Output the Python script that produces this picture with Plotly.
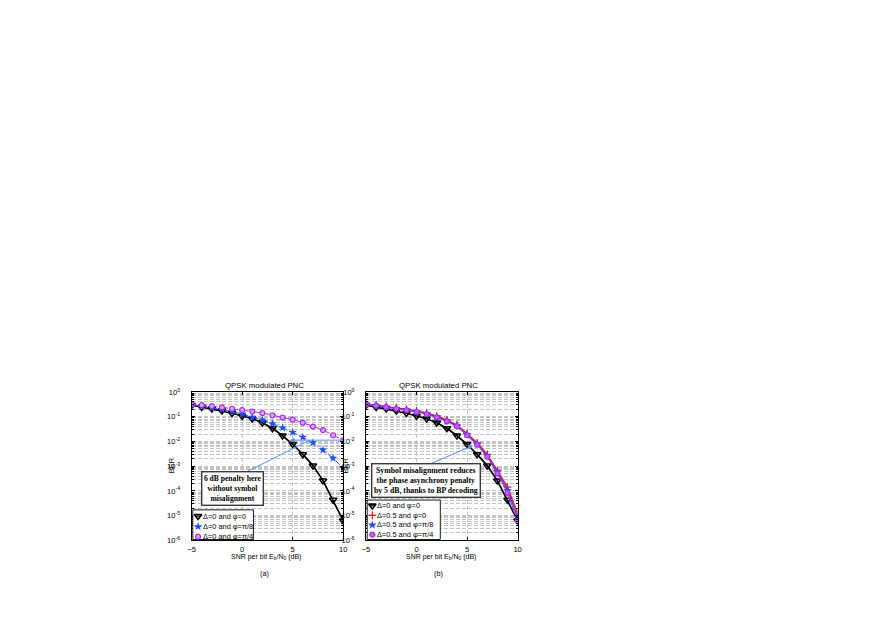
import math
import plotly.graph_objects as go

# ---------------- data ----------------
snr_db = list(range(-5, 11))

# panel (a)
ber_a_d0_phi0 = [0.295, 0.245, 0.211, 0.176, 0.138, 0.107, 0.083, 0.057, 0.034, 0.017,
                 0.0077, 0.0030, 1.05e-3, 2.6e-4, 4.3e-5, 6.2e-6]
ber_a_d0_phi8 = [0.30, 0.27, 0.232, 0.20, 0.166, 0.129, 0.097, 0.074, 0.0525, 0.0355,
                 0.0234, 0.0148, 0.0089, 0.0045, 0.0021, 8.3e-4]
ber_a_d0_phi4 = [0.32, 0.295, 0.27, 0.24, 0.211, 0.186, 0.162, 0.142, 0.115, 0.093,
                 0.077, 0.0575, 0.040, 0.029, 0.0178, 0.0113]

# panel (b)
ber_b_d0_phi0 = ber_a_d0_phi0
ber_b_d05_phi0 = [0.331, 0.295, 0.263, 0.234, 0.204, 0.174, 0.141, 0.107, 0.0741, 0.0457,
                  0.0209, 0.0087, 0.0030, 6.8e-4, 1.41e-4, 1.23e-5]
ber_b_d05_phi8 = [0.324, 0.288, 0.251, 0.219, 0.191, 0.162, 0.132, 0.100, 0.069, 0.0437,
                  0.0195, 0.0079, 0.0026, 5.8e-4, 1.05e-4, 8.9e-6]
ber_b_d05_phi4 = [0.324, 0.282, 0.245, 0.214, 0.186, 0.158, 0.129, 0.0955, 0.066, 0.0417,
                  0.0182, 0.0074, 0.0024, 5.0e-4, 8.3e-5, 6.0e-6]

names_a = ["Δ=0 and φ=0", "Δ=0 and φ=π/8", "Δ=0 and φ=π/4"]
names_b = ["Δ=0 and φ=0", "Δ=0.5 and φ=0", "Δ=0.5 and φ=π/8", "Δ=0.5 and φ=π/4"]

x_ticks = [-5, 0, 5, 10]
y_exps = [-6, -5, -4, -3, -2, -1, 0]
y_ticktext = ["10<sup>%d</sup>" % e for e in y_exps]
chart_title = "QPSK modulated PNC"
x_title = "SNR per bit E<sub>b</sub>/N<sub>0</sub> (dB)"
note_a = "<b>6 dB penalty here<br>without symbol<br>misalignment</b>"
note_b = "<b>Symbol misalignment reduces<br>the phase asynchrony penalty<br>by 5 dB, thanks to BP decoding</b>"

# ---------------- styles ----------------
PAGE_W, PAGE_H = 882, 624
OFF = 8                      # default body margin of the html page
W, H = PAGE_W - 2 * OFF, PAGE_H - 2 * OFF
FONT = "Arial, Liberation Sans, Helvetica, sans-serif"
SERIF = "Times New Roman, Liberation Serif, serif"
BLACK = "#000000"
BLUE = "#1e50f0"
MAG_LINE = "#a52ae8"
MAG_FILL = "#d9a6ff"
RED = "#ff1a1a"
ARROW = "#5a8ff0"
GRID = "#c4c4c4"
CLEAR = "rgba(0,0,0,0)"

# page-pixel geometry of the two axes boxes
AX_A = (189.3, 342.3)
AX_B = (365.3, 518.3)
AX_Y = (393.0, 544.0)


def px(x):
    return (x - OFF) / W


def py(y):
    return 1 - (y - OFF) / H


styles = {
    "black": dict(line=dict(color=BLACK, width=1.7),
                  marker=dict(symbol="triangle-down-open", size=6.5, color=BLACK,
                              line=dict(color=BLACK, width=1.6))),
    "blue_a": dict(line=dict(color=BLUE, width=1.0, dash="5px,2px,1.5px,2px"),
                   marker=dict(symbol="star", size=6.5, color=BLUE, line=dict(width=0))),
    "mag_a": dict(line=dict(color=MAG_LINE, width=1.0, dash="5px,2px,1.5px,2px"),
                  marker=dict(symbol="circle", size=5, color=MAG_FILL,
                              line=dict(color=MAG_LINE, width=1.2))),
    "red": dict(line=dict(color=RED, width=1.5),
                marker=dict(symbol="cross-thin", size=5.5, color=RED,
                            line=dict(color=RED, width=1.3))),
    "blue_b": dict(line=dict(color=BLUE, width=1.1),
                   marker=dict(symbol="star", size=6.5, color=BLUE, line=dict(width=0))),
    "mag_b": dict(line=dict(color=MAG_LINE, width=1.1),
                  marker=dict(symbol="circle", size=5, color="#bb66ff",
                              line=dict(color=MAG_LINE, width=1.2))),
}

fig = go.Figure()

series_a = [(ber_a_d0_phi0, "black", names_a[0]),
            (ber_a_d0_phi8, "blue_a", names_a[1]),
            (ber_a_d0_phi4, "mag_a", names_a[2])]
series_b = [(ber_b_d0_phi0, "black", names_b[0]),
            (ber_b_d05_phi0, "red", names_b[1]),
            (ber_b_d05_phi8, "blue_b", names_b[2]),
            (ber_b_d05_phi4, "mag_b", names_b[3])]

for vals, st, nm in series_a:
    fig.add_trace(go.Scatter(x=snr_db, y=vals, mode="lines+markers", name=nm,
                             xaxis="x", yaxis="y", showlegend=False, **styles[st]))
for vals, st, nm in series_b:
    fig.add_trace(go.Scatter(x=snr_db, y=vals, mode="lines+markers", name=nm,
                             xaxis="x2", yaxis="y2", showlegend=False, **styles[st]))

# ---------------- custom compact legends (page-pixel overlay axes) ----------------
legend_specs = [
    # box x0, x1, y0, y1, marker x, text x, entry ys, series
    (190.5, 251.7, 513.0, 543.2, 195.8, 199.8, [519.5, 530.0, 540.3], series_a, names_a),
    (366.5, 440.3, 503.0, 543.2, 371.7, 375.0, [508.8, 518.6, 528.4, 538.2], series_b, names_b),
]
for bx0, bx1, by0, by1, mx, tx, ys, ser, nms in legend_specs:
    fig.add_trace(go.Scatter(x=[bx0, bx1, bx1, bx0, bx0], y=[by0, by0, by1, by1, by0],
                             mode="lines", fill="toself", fillcolor="white",
                             line=dict(color=BLACK, width=0.9),
                             xaxis="x3", yaxis="y3", showlegend=False, hoverinfo="skip"))
    for (vals, st, nm), yy in zip(ser, ys):
        s = styles[st]
        fig.add_trace(go.Scatter(x=[mx - 3.0, mx + 3.0], y=[yy, yy], mode="lines",
                                 line=dict(color=s["line"]["color"], width=1.1),
                                 xaxis="x3", yaxis="y3", showlegend=False, hoverinfo="skip"))
        fig.add_trace(go.Scatter(x=[mx], y=[yy], mode="markers", marker=s["marker"],
                                 xaxis="x3", yaxis="y3", showlegend=False, hoverinfo="skip"))
        fig.add_annotation(x=px(tx), y=py(yy), xref="paper", yref="paper", text=nm,
                           showarrow=False, xanchor="left", yanchor="middle", borderpad=0,
                           font=dict(family=FONT, size=7.4, color=BLACK))

# ---------------- axes ----------------
minor_vals = [k * 10.0 ** e for e in range(-6, 0) for k in range(2, 10)]


def xaxis_cfg(dom, anchor):
    return dict(domain=dom, anchor=anchor, range=[-5, 10], tickmode="array", tickvals=x_ticks,
                showgrid=True, gridcolor=GRID, griddash="4px,2px", gridwidth=1,
                showline=True, linecolor=BLACK, linewidth=1, mirror="ticks",
                ticks="inside", ticklen=3, tickcolor=BLACK, zeroline=False,
                ticklabelstandoff=2,
                tickfont=dict(family=FONT, size=7.5, color=BLACK))


def yaxis_cfg(anchor):
    return dict(domain=[py(AX_Y[1]), py(AX_Y[0])], anchor=anchor, type="log", range=[-6, 0],
                tickmode="array", tickvals=[10.0 ** e for e in y_exps], ticktext=y_ticktext,
                showgrid=True, gridcolor=GRID, griddash="4px,2px", gridwidth=1,
                showline=True, linecolor=BLACK, linewidth=1, mirror="ticks",
                ticks="inside", ticklen=3, tickcolor=BLACK, zeroline=False,
                ticklabelstandoff=9,
                tickfont=dict(family=FONT, size=7.5, color=BLACK),
                minor=dict(tickmode="array", tickvals=minor_vals, ticks="inside", ticklen=2,
                           tickcolor=BLACK, showgrid=True, gridcolor=GRID,
                           griddash="4px,2px", gridwidth=1))


fig.update_layout(
    width=W, height=H, autosize=False,
    margin=dict(l=0, r=0, t=0, b=0),
    paper_bgcolor="white", plot_bgcolor=CLEAR,
    font=dict(family=FONT, size=7.5, color=BLACK),
    xaxis=xaxis_cfg([px(AX_A[0]), px(AX_A[1])], "y"),
    yaxis=yaxis_cfg("x"),
    xaxis2=xaxis_cfg([px(AX_B[0]), px(AX_B[1])], "y2"),
    yaxis2=yaxis_cfg("x2"),
    xaxis3=dict(domain=[0, 1], range=[OFF, OFF + W], visible=False, anchor="y3",
                fixedrange=True),
    yaxis3=dict(domain=[0, 1], range=[OFF + H, OFF], visible=False, anchor="x3",
                fixedrange=True),
    showlegend=False,
)

# ---------------- texts ----------------
CM = dict(xanchor="center", yanchor="middle", showarrow=False, xref="paper", yref="paper")
for (x0, x1), lab, blab_x in [(AX_A, "(a)", 169.0), (AX_B, "(b)", 345.0)]:
    cx = (x0 + x1) / 2
    fig.add_annotation(x=px(cx - 3), y=py(386), text=chart_title,
                       font=dict(family=FONT, size=7.8, color=BLACK), **CM)
    fig.add_annotation(x=px(cx - 1), y=py(561.5), text=x_title, borderpad=0,
                       font=dict(family=FONT, size=7.0, color=BLACK), **CM)
    fig.add_annotation(x=px(cx - 3), y=py(578), text=lab,
                       font=dict(family=FONT, size=7.2, color=BLACK), **CM)
    fig.add_annotation(x=px(blab_x), y=py(468), text="BER", textangle=-90,
                       font=dict(family=FONT, size=7.5, color=BLACK), **CM)

# arrows (annotations on log axes use log10 coordinates); drawn before the text boxes
y_pen = math.log10(ber_a_d0_phi4[-1])
fig.add_annotation(xref="x", yref="y", x=4.7, y=y_pen, axref="x", ayref="y", ax=10, ay=y_pen,
                   text="", showarrow=True, arrowhead=2, arrowsize=1, arrowwidth=1,
                   arrowcolor=ARROW, standoff=0)
fig.add_annotation(xref="x", yref="y", x=6.7, y=y_pen, ax=-76, ay=38,
                   text="", showarrow=True, arrowhead=0, arrowwidth=1,
                   arrowcolor=ARROW, standoff=0)
fig.add_annotation(xref="x2", yref="y2", x=5.6, y=math.log10(0.0068), ax=-47, ay=20,
                   text="", showarrow=True, arrowhead=2, arrowsize=1, arrowwidth=1,
                   arrowcolor=ARROW, standoff=0)

# text boxes
fig.add_annotation(x=px(231), y=py(491.5), text=note_a, align="center", bgcolor="white",
                   bordercolor="#3a3a3a", borderwidth=1.4, borderpad=1.5,
                   font=dict(family=SERIF, size=7.6, color=BLACK), **CM)
fig.add_annotation(x=px(425.8), y=py(483), text=note_b, align="center", bgcolor="white",
                   bordercolor="#3a3a3a", borderwidth=1.4, borderpad=1.5,
                   font=dict(family=SERIF, size=7.8, color=BLACK), **CM)

fig.write_html("out.html")
